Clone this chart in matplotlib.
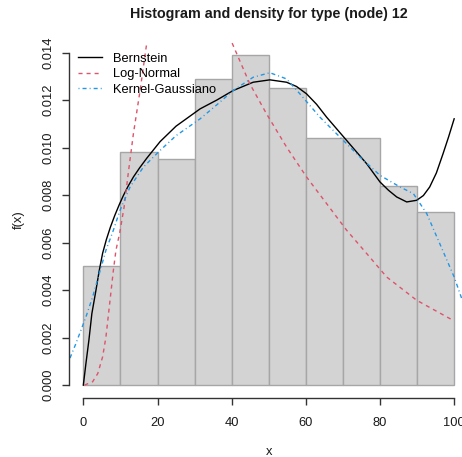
import matplotlib
matplotlib.use("Agg")
import matplotlib.pyplot as plt
import numpy as np

plt.rcParams["font.family"] = ["Liberation Sans", "DejaVu Sans"]

# histogram (density scale), bins of width 10
breaks = [0, 10, 20, 30, 40, 50, 60, 70, 80, 90, 100]
density = [0.0050, 0.0098, 0.0095, 0.0129, 0.0139, 0.0125, 0.0104, 0.0104, 0.0084, 0.0073]

# Bernstein polynomial density estimate
bern_x = [0, 0.7, 1.5, 2.3, 3.4, 4.3, 5.2, 6.2, 7.3, 8.5, 9.7, 10.8, 12.1, 13.5, 15.2, 17.1,
          20.7, 25, 31.5, 36, 40.4, 45.8, 50.3, 54.8, 57.5, 60.2, 62.9, 65.6, 71, 76.4, 80,
          82.3, 84.5, 87.2, 89.9, 91.7, 93.4, 95.2, 97, 98.5, 100]
bern_y = [0, 0.00091, 0.00189, 0.00301, 0.00399, 0.00483, 0.00555, 0.00612, 0.00665, 0.00715,
          0.0076, 0.00798, 0.00838, 0.00876, 0.00915, 0.00955, 0.01025, 0.0109, 0.01163,
          0.0120, 0.0124, 0.01275, 0.01285, 0.01275, 0.01257, 0.01226, 0.01182, 0.01128,
          0.0103, 0.00932, 0.00855, 0.0082, 0.00792, 0.00771, 0.00778, 0.00798, 0.00834,
          0.00893, 0.00974, 0.01045, 0.01121]

# fitted log-normal density
lnorm_x = [0.3, 2.5, 3.9, 5.2, 6.1, 6.8, 7.5, 8.1, 8.8, 9.8, 11.0, 12.1, 13.5, 15.3, 17.1,
           20, 25, 30, 35, 40.2, 44.9, 49.4, 54.8, 60.2, 65.6, 71, 76.4, 81.8, 89.9, 100]
lnorm_y = [0, 0.00014, 0.00049, 0.00119, 0.00203, 0.00301, 0.00399, 0.00483, 0.00568, 0.0064,
           0.0075, 0.0089, 0.01058, 0.0124, 0.0144, 0.0163, 0.0178, 0.0176, 0.0162, 0.01437,
           0.01268, 0.01142, 0.01002, 0.00876, 0.00764, 0.00652, 0.00554, 0.00455, 0.00357,
           0.0027]

# gaussian kernel density
kern_x = [-4, -2, 0.7, 2.5, 4.3, 6.1, 8.1, 9.9, 12.6, 16.2, 20.7, 25, 31.5, 36, 40.4, 45.8,
          50.3, 54.8, 58.4, 63.8, 69.2, 74.6, 80, 85.4, 89, 92.6, 96.1, 100, 102.2, 104]
kern_y = [0.00098, 0.00175, 0.00287, 0.00371, 0.00469, 0.00568, 0.00652, 0.00736, 0.00834,
          0.00918, 0.00988, 0.0105, 0.01121, 0.0118, 0.0124, 0.01296, 0.01315, 0.01289,
          0.01226, 0.01128, 0.01044, 0.0096, 0.00883, 0.00834, 0.00806, 0.00722, 0.00596,
          0.00455, 0.00357, 0.0028]

x_ticks = [0, 20, 40, 60, 80, 100]
y_ticks = [0.000, 0.002, 0.004, 0.006, 0.008, 0.010, 0.012, 0.014]

W, H = 462, 457
fig = plt.figure(figsize=(W / 100, H / 100), dpi=100)
# plot region runs a bit past the right edge of the image
ax = fig.add_axes([68.5 / W, 1 - 398.3 / H, 400.5 / W, 356.6 / H])

ymax = max(density)
ax.set_xlim(-4, 104)
ax.set_ylim(-0.04 * ymax, 1.04 * ymax)

ax.bar(breaks[:-1], density, width=np.diff(breaks), align="edge",
       color="#D3D3D3", edgecolor="#A6A6A6", linewidth=1.0)

ax.plot(bern_x, bern_y, color="black", lw=1.0, label="Bernstein")
ax.plot(lnorm_x, lnorm_y, color="#DF536B", lw=1.0, linestyle=(0, (2.9, 2.9)), label="Log-Normal")
ax.plot(kern_x, kern_y, color="#2297E6", lw=1.0, linestyle=(0, (0.7, 2.2, 2.9, 2.2)),
        label="Kernel-Gaussiano")

for s in ["top", "right"]:
    ax.spines[s].set_visible(False)
ax.spines["left"].set_bounds(0, 0.014)
ax.spines["bottom"].set_bounds(0, 100)
for s in ["left", "bottom"]:
    ax.spines[s].set_color("#333333")
    ax.spines[s].set_linewidth(1.0)

ax.set_xticks(x_ticks)
ax.set_xticklabels([str(v) for v in x_ticks])
ax.set_yticks(y_ticks)
ax.set_yticklabels([f"{v:.3f}" for v in y_ticks], rotation=90, va="center")
ax.tick_params(axis="both", length=5, width=1.0, color="#333333", labelsize=9.3,
               labelcolor="#1a1a1a")
ax.tick_params(axis="x", pad=8.5)
ax.tick_params(axis="y", pad=5)

fig.text(268.8 / W, 1 - 451.7 / H, "x", ha="center", va="center", fontsize=9.3, color="#1a1a1a")
fig.text(19 / W, 1 - 220 / H, "f(x)", ha="center", va="center", rotation=90, fontsize=9.3,
         color="#1a1a1a")
fig.text(268.8 / W, 1 - 14 / H, "Histogram and density for type (node) 12", ha="center",
         va="center", fontsize=10.3, fontweight="bold", color="#1a1a1a")

ax.legend(loc="upper left", bbox_to_anchor=(78.3 / W, 1 - 52.5 / H),
          bbox_transform=fig.transFigure, frameon=False, fontsize=9.3,
          handlelength=1.8, handletextpad=0.85, borderpad=0, borderaxespad=0,
          labelspacing=0.28)

fig.savefig("out.png", dpi=100)
